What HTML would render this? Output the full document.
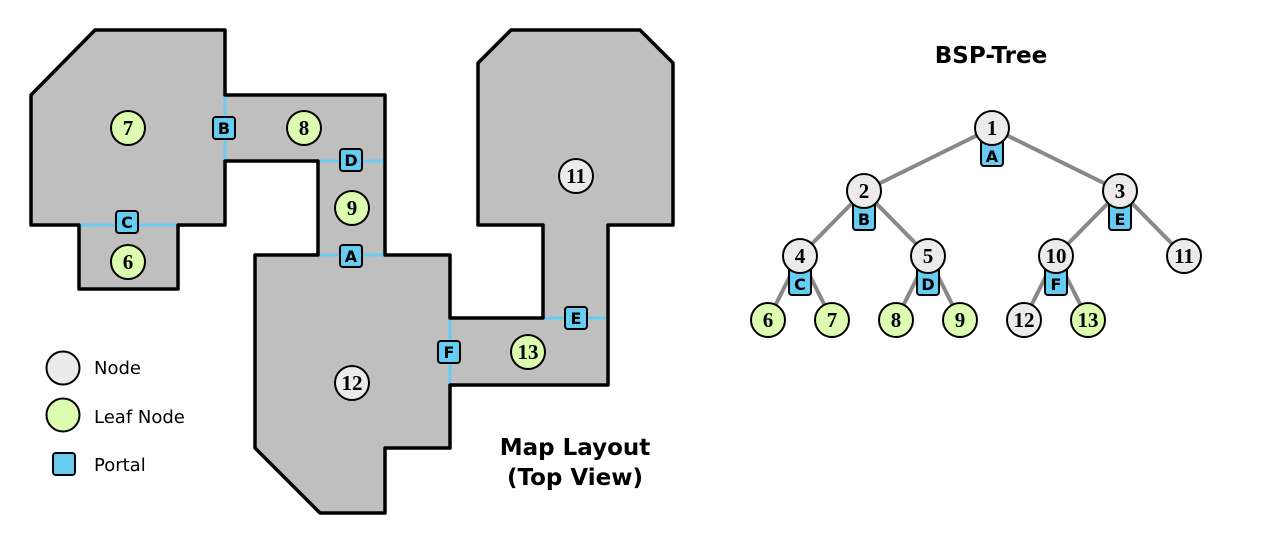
<!DOCTYPE html>
<html><head><meta charset="utf-8"><style>
html,body{margin:0;padding:0;background:#fff;}
svg{display:block;}
.num{font-family:"Liberation Serif",serif;font-weight:bold;font-size:21px;text-anchor:middle;}
.pl{font-family:"DejaVu Sans",sans-serif;font-weight:bold;font-size:16px;text-anchor:middle;}
.t{font-family:"DejaVu Sans",sans-serif;font-weight:bold;font-size:23px;text-anchor:middle;}
.lg{font-family:"DejaVu Sans",sans-serif;font-size:18px;}
</style></head><body>
<svg width="1280" height="544" viewBox="0 0 1280 544" xmlns="http://www.w3.org/2000/svg">
<defs>
<g id="pb"><rect x="-11" y="-11" width="22" height="22" rx="3" fill="#66ccf2" stroke="#000" stroke-width="2"/></g>
</defs>
<polygon points="95,30 225,30 225,95 385,95 385,255 450,255 450,318 543,318 543,225 478,225 478,63 511,30 640,30 673,63 673,225 608,225 608,385 450,385 450,448 385,448 385,513 320,513 255,448 255,255 318,255 318,161 225,161 225,225 178,225 178,289 79,289 79,225 31,225 31,95" fill="#bfbfbf" stroke="#000" stroke-width="3.5" stroke-linejoin="round"/>
<g stroke="#66ccf2" stroke-width="3">
<line x1="225" y1="97" x2="225" y2="159"/>
<line x1="81" y1="225" x2="176" y2="225"/>
<line x1="320" y1="161" x2="383" y2="161"/>
<line x1="320" y1="255" x2="383" y2="255"/>
<line x1="450" y1="320" x2="450" y2="383"/>
<line x1="545" y1="318" x2="606" y2="318"/>
</g>
<g>
<use href="#pb" x="224" y="128"/><text class="pl" x="224" y="134">B</text>
<use href="#pb" x="127" y="222"/><text class="pl" x="127" y="228">C</text>
<use href="#pb" x="351" y="160"/><text class="pl" x="351" y="166">D</text>
<use href="#pb" x="351" y="256"/><text class="pl" x="351" y="262">A</text>
<use href="#pb" x="449" y="352"/><text class="pl" x="449" y="358">F</text>
<use href="#pb" x="576" y="318"/><text class="pl" x="576" y="324">E</text>
</g>
<g stroke="#000" stroke-width="2">
<circle cx="128" cy="128" r="17" fill="#dcfcb0"/>
<circle cx="304" cy="128" r="17" fill="#dcfcb0"/>
<circle cx="352" cy="208" r="17" fill="#dcfcb0"/>
<circle cx="128" cy="262" r="17" fill="#dcfcb0"/>
<circle cx="576" cy="176" r="17" fill="#ebebeb"/>
<circle cx="352" cy="383" r="17" fill="#ebebeb"/>
<circle cx="528" cy="352" r="17" fill="#dcfcb0"/>
</g>
<g>
<text class="num" x="128" y="135">7</text>
<text class="num" x="304" y="135">8</text>
<text class="num" x="352" y="215">9</text>
<text class="num" x="128" y="269">6</text>
<text class="num" x="576" y="183">11</text>
<text class="num" x="352" y="390">12</text>
<text class="num" x="528" y="359">13</text>
</g>
<circle cx="63" cy="368" r="16.5" fill="#ebebeb" stroke="#000" stroke-width="2"/>
<circle cx="63" cy="415" r="16.5" fill="#dcfcb0" stroke="#000" stroke-width="2"/>
<rect x="53" y="453" width="22" height="22" rx="3" fill="#66ccf2" stroke="#000" stroke-width="2"/>
<text class="lg" x="94" y="374">Node</text>
<text class="lg" x="94" y="423">Leaf Node</text>
<text class="lg" x="94" y="471">Portal</text>
<text class="t" x="575" y="455">Map Layout</text>
<text class="t" x="575" y="485">(Top View)</text>
<text class="t" x="991" y="63">BSP-Tree</text>
<g stroke="#888" stroke-width="4">
<line x1="992" y1="128" x2="864" y2="191"/>
<line x1="992" y1="128" x2="1120" y2="191"/>
<line x1="864" y1="191" x2="800" y2="256"/>
<line x1="864" y1="191" x2="928" y2="256"/>
<line x1="1120" y1="191" x2="1056" y2="256"/>
<line x1="1120" y1="191" x2="1184" y2="256"/>
<line x1="800" y1="256" x2="768" y2="320"/>
<line x1="800" y1="256" x2="832" y2="320"/>
<line x1="928" y1="256" x2="896" y2="320"/>
<line x1="928" y1="256" x2="960" y2="320"/>
<line x1="1056" y1="256" x2="1024" y2="320"/>
<line x1="1056" y1="256" x2="1088" y2="320"/>
</g>
<g>
<rect x="981" y="137" width="22" height="29" rx="3" fill="#66ccf2" stroke="#000" stroke-width="2"/><text class="pl" x="992" y="162">A</text>
<rect x="853" y="200" width="22" height="30" rx="3" fill="#66ccf2" stroke="#000" stroke-width="2"/><text class="pl" x="864" y="225">B</text>
<rect x="1109" y="200" width="22" height="30" rx="3" fill="#66ccf2" stroke="#000" stroke-width="2"/><text class="pl" x="1120" y="225">E</text>
<rect x="789" y="265" width="22" height="30" rx="3" fill="#66ccf2" stroke="#000" stroke-width="2"/><text class="pl" x="800" y="290">C</text>
<rect x="917" y="265" width="22" height="30" rx="3" fill="#66ccf2" stroke="#000" stroke-width="2"/><text class="pl" x="928" y="290">D</text>
<rect x="1045" y="265" width="22" height="30" rx="3" fill="#66ccf2" stroke="#000" stroke-width="2"/><text class="pl" x="1056" y="290">F</text>
</g>
<g stroke="#000" stroke-width="2">
<circle cx="992" cy="128" r="17" fill="#ebebeb"/>
<circle cx="864" cy="191" r="17" fill="#ebebeb"/>
<circle cx="1120" cy="191" r="17" fill="#ebebeb"/>
<circle cx="800" cy="256" r="17" fill="#ebebeb"/>
<circle cx="928" cy="256" r="17" fill="#ebebeb"/>
<circle cx="1056" cy="256" r="17" fill="#ebebeb"/>
<circle cx="1184" cy="256" r="17" fill="#ebebeb"/>
<circle cx="768" cy="320" r="17" fill="#dcfcb0"/>
<circle cx="832" cy="320" r="17" fill="#dcfcb0"/>
<circle cx="896" cy="320" r="17" fill="#dcfcb0"/>
<circle cx="960" cy="320" r="17" fill="#dcfcb0"/>
<circle cx="1024" cy="320" r="17" fill="#ebebeb"/>
<circle cx="1088" cy="320" r="17" fill="#dcfcb0"/>
</g>
<g>
<text class="num" x="992" y="135">1</text>
<text class="num" x="864" y="198">2</text>
<text class="num" x="1120" y="198">3</text>
<text class="num" x="800" y="263">4</text>
<text class="num" x="928" y="263">5</text>
<text class="num" x="1056" y="263">10</text>
<text class="num" x="1184" y="263">11</text>
<text class="num" x="768" y="327">6</text>
<text class="num" x="832" y="327">7</text>
<text class="num" x="896" y="327">8</text>
<text class="num" x="960" y="327">9</text>
<text class="num" x="1024" y="327">12</text>
<text class="num" x="1088" y="327">13</text>
</g>
</svg>
</body></html>
